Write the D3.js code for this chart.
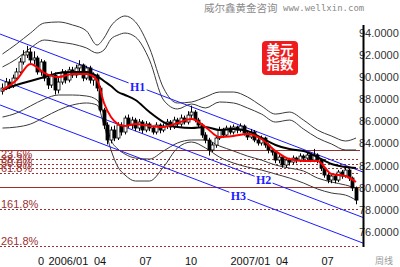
<!DOCTYPE html>
<html>
<head>
<meta charset="utf-8">
<script src="https://cdn.jsdelivr.net/npm/d3@7/dist/d3.min.js"></script>
<style>
  body { margin: 0; background: #fff; }
  svg { display: block; font-family: "Liberation Sans", Arial, sans-serif; }
</style>
</head>
<body>
<div id="chart"></div>
<script>
// weekly candles, index 0 = first week shown (autumn 2005)
const opens = [88.70, 88.99, 89.53, 89.17, 89.89, 90.44, 91.34, 91.97, 92.24, 91.52,
  91.70, 90.44, 91.34, 89.89, 89.26, 90.16, 88.81, 89.53, 90.44, 89.71,
  90.62, 90.16, 90.80, 91.07, 89.89, 90.80, 89.71, 90.16, 88.99, 87.01,
  85.65, 84.30, 85.20, 84.48, 85.65, 85.02, 86.28, 85.65, 86.10, 85.38,
  85.92, 85.20, 85.74, 85.38, 85.02, 85.65, 85.20, 85.56, 85.92, 85.47,
  86.10, 85.74, 86.28, 85.92, 86.55, 86.82, 86.10, 85.65, 84.75, 84.30,
  83.40, 83.85, 84.48, 85.20, 84.75, 85.38, 85.02, 85.47, 85.20, 85.56,
  84.93, 84.57, 85.02, 84.30, 84.03, 84.48, 83.85, 83.40, 83.21, 82.49,
  82.76, 82.04, 82.49, 82.31, 82.67, 82.49, 82.85, 82.67, 82.94, 82.49,
  82.94, 82.49, 81.77, 81.14, 80.69, 81.05, 80.69, 81.41, 81.05, 81.59,
  80.87, 79.97];
const highs = [89.40, 89.90, 89.80, 90.20, 90.80, 91.70, 92.40, 92.80, 92.60, 92.30,
  91.90, 91.60, 91.50, 90.20, 90.50, 90.40, 89.90, 90.70, 90.60, 90.90,
  90.90, 91.10, 91.50, 91.20, 91.00, 91.00, 90.40, 90.30, 89.20, 87.20,
  85.90, 85.50, 85.60, 85.90, 85.90, 86.50, 86.60, 86.40, 86.30, 86.20,
  86.10, 86.00, 85.90, 85.60, 85.90, 85.80, 85.80, 86.20, 86.10, 86.40,
  86.30, 86.60, 86.50, 86.90, 87.40, 87.00, 86.30, 85.80, 85.00, 84.50,
  84.10, 84.70, 85.50, 85.40, 85.60, 85.60, 85.70, 85.60, 85.80, 85.70,
  85.10, 85.30, 85.20, 84.50, 84.70, 84.60, 84.00, 83.60, 83.40, 83.00,
  82.90, 82.70, 82.70, 82.90, 82.80, 83.10, 83.00, 83.20, 83.10, 83.50,
  83.10, 82.60, 81.90, 81.30, 81.30, 81.20, 81.60, 81.60, 81.80, 81.70,
  81.00, 80.10];
const lows = [88.40, 88.80, 88.90, 89.00, 89.70, 90.30, 91.10, 91.70, 91.20, 91.10,
  90.20, 90.10, 89.60, 88.90, 89.00, 88.40, 88.50, 89.30, 89.40, 89.50,
  89.90, 89.90, 90.50, 89.60, 89.70, 89.40, 89.20, 88.70, 86.80, 85.30,
  83.90, 84.00, 84.20, 84.30, 84.70, 84.80, 85.40, 85.30, 85.10, 85.10,
  84.90, 85.00, 85.10, 84.80, 84.80, 84.90, 85.00, 85.30, 85.20, 85.30,
  85.50, 85.50, 85.70, 85.70, 86.30, 85.90, 85.40, 84.50, 84.00, 82.90,
  83.20, 83.60, 84.30, 84.50, 84.60, 84.80, 84.80, 84.90, 85.00, 84.70,
  84.30, 84.40, 84.10, 83.80, 83.80, 83.60, 83.10, 82.90, 82.20, 82.20,
  81.80, 81.80, 82.00, 82.10, 82.20, 82.30, 82.40, 82.50, 82.30, 82.30,
  82.20, 81.50, 80.90, 80.40, 80.40, 80.40, 80.50, 80.80, 80.90, 80.60,
  79.70, 78.50];
const closes = [88.99, 89.53, 89.17, 89.89, 90.44, 91.34, 91.97, 92.24, 91.52, 91.70,
  90.44, 91.34, 89.89, 89.26, 90.16, 88.81, 89.53, 90.44, 89.71, 90.62,
  90.16, 90.80, 91.07, 89.89, 90.80, 89.71, 90.16, 88.99, 87.01, 85.65,
  84.30, 85.20, 84.48, 85.65, 85.02, 86.28, 85.65, 86.10, 85.38, 85.92,
  85.20, 85.74, 85.38, 85.02, 85.65, 85.20, 85.56, 85.92, 85.47, 86.10,
  85.74, 86.28, 85.92, 86.55, 86.82, 86.10, 85.65, 84.75, 84.30, 83.40,
  83.85, 84.48, 85.20, 84.75, 85.38, 85.02, 85.47, 85.20, 85.56, 84.93,
  84.57, 85.02, 84.30, 84.03, 84.48, 83.85, 83.40, 83.21, 82.49, 82.76,
  82.04, 82.49, 82.31, 82.67, 82.49, 82.85, 82.67, 82.94, 82.49, 82.94,
  82.49, 81.77, 81.14, 80.69, 81.05, 80.69, 81.41, 81.05, 81.59, 80.87,
  79.97, 78.88];

// indicator lines at these weeks
const bandWeeks = [0, 4, 8, 12, 16, 20, 24, 27, 29, 31, 33, 35, 38, 42, 46, 50, 54, 58, 62, 66, 70, 74, 78, 82, 86, 90, 94, 98, 101];
const upperOuter = [92.06, 92.96, 93.95, 94.86, 94.95, 94.68, 94.14, 92.87, 93.50, 94.59, 95.22, 95.49, 94.95, 92.60, 88.99, 87.64, 87.73, 88.18, 88.63, 88.63, 88.18, 87.37, 86.64, 86.82, 86.10, 85.20, 84.66, 84.21, 84.48];
const upperInner = [90.89, 91.61, 92.60, 93.32, 93.14, 92.96, 92.60, 92.15, 92.42, 93.41, 93.77, 93.95, 93.59, 91.52, 87.91, 87.10, 87.55, 87.19, 87.73, 87.64, 87.19, 86.64, 85.92, 86.10, 85.29, 84.48, 83.94, 83.40, 83.40];
const lowerInner = [86.37, 86.73, 87.37, 88.00, 88.36, 88.36, 88.27, 87.91, 86.55, 84.30, 83.48, 83.03, 82.67, 82.58, 83.31, 84.03, 84.30, 84.30, 83.76, 83.31, 82.85, 82.49, 82.04, 81.77, 81.50, 80.87, 80.51, 80.24, 79.97];
const lowerOuter = [85.38, 85.47, 85.74, 86.37, 87.00, 87.46, 87.64, 87.46, 85.65, 83.40, 81.86, 81.14, 80.60, 80.60, 81.86, 83.58, 84.12, 83.58, 82.76, 82.22, 81.86, 81.59, 81.23, 80.87, 80.42, 79.88, 79.52, 79.33, 78.88];
const maShort = [88.81, 89.71, 91.16, 90.34, 89.98, 90.25, 90.25, 89.71, 87.64, 86.37, 85.74, 85.56, 85.74, 85.56, 85.47, 85.83, 86.19, 85.47, 84.57, 84.66, 84.84, 84.39, 83.31, 82.58, 82.40, 82.40, 81.23, 81.05, 80.51];
const maLong = [88.81, 89.26, 89.62, 89.98, 90.34, 90.44, 90.44, 90.07, 89.62, 89.17, 88.63, 88.36, 87.91, 86.82, 85.92, 85.47, 85.38, 85.47, 85.20, 85.29, 85.11, 84.48, 83.85, 83.48, 83.31, 82.76, 82.13, 81.86, 81.77];

// channel lines H1..H3 (start / end)
const channelWeeks = [-0.7, 103];
const channelH1 = [93.86, 81.41];
const channelH2 = [89.76, 77.31];
const channelH3 = [87.46, 75.00];
const channelNames = ['H1', 'H2', 'H3'];
const channelLabelWeeks = [38.6, 74.6, 67.4];

// fibonacci levels
const fibHigh = 83.40;
const fibLow = 80.10;
const fibLevels = [0, 0.236, 0.382, 0.5, 0.618, 1, 1.618, 2.618];
const fibLabels = ['', '23.6%', '38.2%', '50.0%', '61.8%', '', '161.8%', '261.8%'];

// axes
const yTicks = [94, 92, 90, 88, 86, 84, 82, 80, 78, 76];
const xTickWeeks = [10, 13, 26, 39, 52, 65, 78, 91];
const xTickLabels = ['0', '2006/01', '04', '07', '10', '2007/01', '04', '07'];

//
// Set-up
//
const width = 400;
const height = 267;
const axisX = 363;

const svg = d3.select('#chart')
  .append('svg')
    .attr('width', width)
    .attr('height', height);

const xScale = d3.scaleLinear()
  .domain([-0.714, 103])
  .range([0, axisX]);

const yScale = d3.scaleLinear()
  .domain([94, 76])
  .range([32.5, 232]);

const wrapper = svg.append('g').attr('class', 'chartWrapper');

//
// Fibonacci lines
//
const fibColor = '#9c3030';
const fib = wrapper.append('g').attr('class', 'fib');
fibLevels.forEach((lv, i) => {
  const v = fibHigh - lv * (fibHigh - fibLow);
  const yy = Math.round(yScale(v)) + 0.5;
  fib.append('line')
    .attr('x1', 0)
    .attr('x2', 360)
    .attr('y1', yy)
    .attr('y2', yy)
    .attr('stroke', fibColor)
    .attr('stroke-width', 1)
    .attr('stroke-dasharray', (lv === 0 || lv === 1) ? null : '2,2');
  if (fibLabels[i]) {
    fib.append('text')
      .attr('x', 1)
      .attr('y', yy - 2)
      .style('font-size', '11px')
      .style('fill', fibColor)
      .text(fibLabels[i]);
  }
});

//
// Bands and moving averages
//
const bandLine = vals => d3.line()
  .x((d, i) => xScale(bandWeeks[i]))
  .y(d => yScale(d))
  .curve(d3.curveMonotoneX)(vals);

[upperOuter, upperInner, lowerInner, lowerOuter].forEach(vals => {
  wrapper.append('path')
    .attr('d', bandLine(vals))
    .attr('fill', 'none')
    .attr('stroke', '#3a3a3a')
    .attr('stroke-width', 1);
});

//
// Channel lines
//
const channels = [channelH1, channelH2, channelH3];
channels.forEach(vals => {
  wrapper.append('line')
    .attr('x1', xScale(channelWeeks[0]))
    .attr('x2', xScale(channelWeeks[1]))
    .attr('y1', yScale(vals[0]))
    .attr('y2', yScale(vals[1]))
    .attr('stroke', '#1c1cff')
    .attr('stroke-width', 1);
});

//
// Candles
//
const candles = wrapper.append('g').attr('class', 'candles');
const idx = d3.range(closes.length);

candles.selectAll('.wick')
  .data(idx)
  .enter().append('line')
    .attr('class', 'wick')
    .attr('x1', i => Math.round(xScale(i)) + 0.5)
    .attr('x2', i => Math.round(xScale(i)) + 0.5)
    .attr('y1', i => yScale(highs[i]))
    .attr('y2', i => yScale(lows[i]))
    .attr('stroke', '#000')
    .attr('stroke-width', 1);

candles.selectAll('.body')
  .data(idx)
  .enter().append('rect')
    .attr('class', 'body')
    .attr('x', i => Math.round(xScale(i)) - 1)
    .attr('width', 3)
    .attr('y', i => yScale(Math.max(opens[i], closes[i])))
    .attr('height', i => Math.max(1, Math.abs(yScale(opens[i]) - yScale(closes[i]))))
    .attr('fill', i => closes[i] >= opens[i] ? '#fff' : '#000')
    .attr('stroke', '#000')
    .attr('stroke-width', 0.8);

wrapper.append('path')
  .attr('d', bandLine(maLong))
  .attr('fill', 'none')
  .attr('stroke', '#000')
  .attr('stroke-width', 2);

wrapper.append('path')
  .attr('d', bandLine(maShort))
  .attr('fill', 'none')
  .attr('stroke', '#ff0000')
  .attr('stroke-width', 2);

//
// Channel labels (white box cuts the line)
//
channels.forEach((vals, i) => {
  const w = channelLabelWeeks[i];
  const t = (w - channelWeeks[0]) / (channelWeeks[1] - channelWeeks[0]);
  const cx = xScale(w);
  const cy = yScale(vals[0] + t * (vals[1] - vals[0]));
  const g = wrapper.append('g').attr('transform', `translate(${cx}, ${cy})`);
  g.append('rect')
    .attr('x', -9)
    .attr('y', -6)
    .attr('width', 18)
    .attr('height', 12)
    .attr('fill', '#fff');
  g.append('text')
    .attr('text-anchor', 'middle')
    .attr('dy', '0.36em')
    .style('font-family', '"Liberation Serif", "Times New Roman", serif')
    .style('font-weight', 700)
    .style('font-size', '12px')
    .style('fill', '#1c1cff')
    .text(channelNames[i]);
});

//
// Axes
//
const yAxis = d3.axisRight(yScale)
  .tickValues(yTicks)
  .tickSize(0)
  .tickPadding(-4)
  .tickFormat(d3.format('.4f'));

const yG = svg.append('g')
  .attr('class', 'y axis')
  .attr('transform', `translate(${axisX}, 0)`)
  .call(yAxis);
yG.select('.domain').remove();
yG.selectAll('text')
  .style('font-size', '11px')
  .style('font-family', '"Liberation Sans", Arial, sans-serif')
  .style('fill', '#333');

svg.append('line')
  .attr('x1', axisX + 0.5)
  .attr('x2', axisX + 0.5)
  .attr('y1', 25)
  .attr('y2', 247)
  .attr('stroke', '#000')
  .attr('stroke-width', 2);

const xAxis = d3.axisBottom(xScale)
  .tickValues(xTickWeeks)
  .tickSize(0)
  .tickPadding(0)
  .tickFormat((d, i) => xTickLabels[i]);

const xG = svg.append('g')
  .attr('class', 'x axis')
  .attr('transform', `translate(0, 257)`)
  .call(xAxis);
xG.select('.domain').remove();
xG.selectAll('text')
  .attr('text-anchor', 'start')
  .style('font-size', '11px')
  .style('font-family', '"Liberation Sans", Arial, sans-serif')
  .style('fill', '#111');

svg.append('text')
  .attr('x', 375)
  .attr('y', 264)
  .style('font-family', '"Noto Sans CJK SC", sans-serif')
  .style('font-size', '9px')
  .style('fill', '#999')
  .text('周线');

//
// Header and badge
//
svg.append('text')
  .attr('x', 204)
  .attr('y', 12)
  .style('font-family', '"Noto Sans CJK SC", sans-serif')
  .style('font-size', '10.5px')
  .style('fill', '#8a8a8a')
  .text('威尔鑫黄金咨询');

svg.append('text')
  .attr('x', 283)
  .attr('y', 11)
  .style('font-family', '"DejaVu Sans Mono", monospace')
  .style('font-size', '9px')
  .style('fill', '#8a8a8a')
  .text('www.wellxin.com');

const badge = svg.append('g').attr('transform', 'translate(262, 41)');
badge.append('rect')
  .attr('width', 36)
  .attr('height', 34)
  .attr('rx', 4)
  .attr('fill', '#ee1c1c');
['美元', '指数'].forEach((t, i) => {
  badge.append('text')
    .attr('x', 18)
    .attr('y', 14 + i * 14)
    .attr('text-anchor', 'middle')
    .style('font-family', '"Noto Sans CJK SC", sans-serif')
    .style('font-weight', 700)
    .style('font-size', '13.5px')
    .style('fill', '#fff')
    .text(t);
});
</script>
</body>
</html>
